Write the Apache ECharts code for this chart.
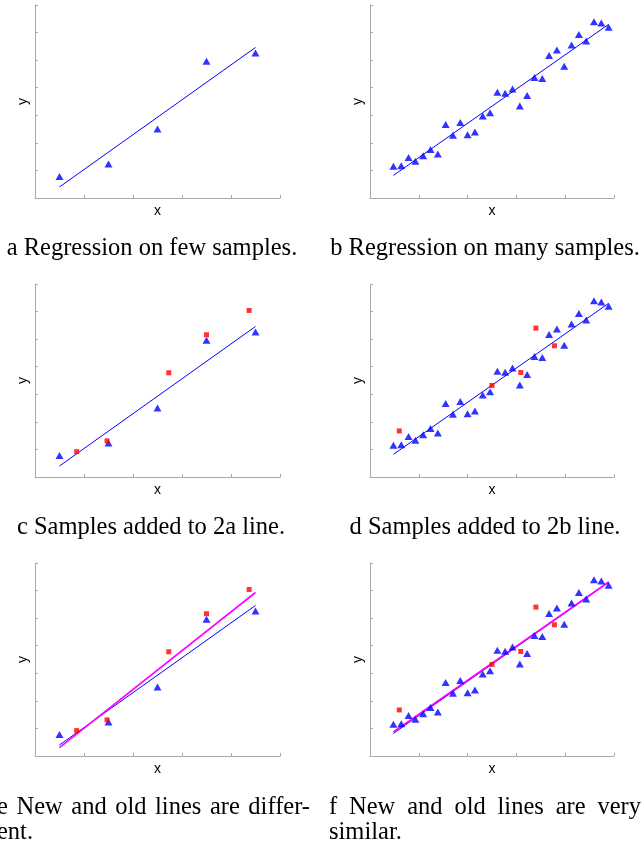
<!DOCTYPE html>
<html lang="en">
<head>
<meta charset="utf-8" />
<title>Regression panels</title>
<script src="https://cdn.jsdelivr.net/npm/echarts@6/dist/echarts.min.js"></script>
<style>
  html, body { margin: 0; padding: 0; background: #fff; }
  #main { width: 642px; height: 848px; }
</style>
</head>
<body>
<div id="main"></div>
<script>
// few samples (panels a, c, e)
let fewX = [0.5, 1.5, 2.5, 3.5, 4.5];
let fewY = [0.78, 1.23, 2.50, 4.96, 5.26];
let fewAddX = [0.85, 1.47, 2.73, 3.50, 4.37];
let fewAddY = [0.92, 1.31, 3.78, 5.16, 6.04];
let fewLineX = [0.5, 4.5];
let fewLineY = [0.40, 5.46];
let fewNewLineY = [0.30, 5.93];

// many samples (panels b, d, f)
let manyX = [0.48, 0.64, 0.79, 0.93, 1.09, 1.24, 1.39, 1.55, 1.70, 1.85,
             2.00, 2.15, 2.31, 2.46, 2.61, 2.77, 2.92, 3.07, 3.22, 3.37,
             3.53, 3.67, 3.83, 3.98, 4.13, 4.28, 4.43, 4.59, 4.74, 4.89];
let manyY = [1.15, 1.17, 1.47, 1.33, 1.53, 1.76, 1.60, 2.67, 2.28, 2.74,
             2.29, 2.39, 2.97, 3.09, 3.84, 3.80, 3.95, 3.34, 3.72, 4.37,
             4.33, 5.17, 5.37, 4.78, 5.55, 5.93, 5.69, 6.39, 6.35, 6.19];
let manyAddX = [0.60, 2.50, 3.09, 3.40, 3.78];
let manyAddY = [1.67, 3.32, 3.79, 5.40, 4.76];
let manyLineX = [0.48, 4.89];
let manyLineY = [0.82, 6.30];
let manyNewLineY = [0.87, 6.31];

// axis ticks
let xTicks = [0, 1, 2, 3, 4, 5];
let yTicks = [0, 1, 2, 3, 4, 5, 6, 7];

let captions = [
  ['a Regression on few samples.'],
  ['b Regression on many samples.'],
  ['c Samples added to 2a line.'],
  ['d Samples added to 2b line.'],
  ['e New and old lines are differ-', 'ent.'],
  ['f New and old lines are very', 'similar.']
];

function pairs(xs, ys) {
  return xs.map((x, i) => [x, ys[i]]);
}

// layout of the six panels
let panels = [
  { left: 35, top: 5,   width: 245, set: 'few',  added: false, newLine: false },
  { left: 370, top: 5,  width: 244, set: 'many', added: false, newLine: false },
  { left: 35, top: 284, width: 245, set: 'few',  added: true,  newLine: false },
  { left: 370, top: 284, width: 244, set: 'many', added: true, newLine: false },
  { left: 35, top: 563, width: 245, set: 'few',  added: true,  newLine: true },
  { left: 370, top: 563, width: 244, set: 'many', added: true, newLine: true }
];
let plotH = 193;

let axisColor = '#a9a9a9';
let grids = [], xAxes = [], yAxes = [], series = [];

panels.forEach((p, i) => {
  grids.push({ left: p.left, top: p.top, width: p.width, height: plotH });
  xAxes.push({
    type: 'value', gridIndex: i,
    min: xTicks[0], max: xTicks[xTicks.length - 1], interval: 1,
    name: 'x', nameLocation: 'middle', nameGap: 6,
    nameTextStyle: { fontFamily: 'Liberation Sans', fontSize: 14, color: '#000' },
    axisLine: { lineStyle: { color: axisColor, width: 1 } },
    axisTick: { inside: true, length: 3, lineStyle: { color: axisColor } },
    axisLabel: { show: false },
    splitLine: { show: false }
  });
  yAxes.push({
    type: 'value', gridIndex: i,
    min: yTicks[0], max: yTicks[yTicks.length - 1], interval: 1,
    name: 'y', nameLocation: 'middle', nameGap: 5,
    nameTextStyle: { fontFamily: 'Liberation Sans', fontSize: 14, color: '#000' },
    axisLine: { show: true, lineStyle: { color: axisColor, width: 1 } },
    axisTick: { show: true, inside: true, length: 3, lineStyle: { color: axisColor } },
    axisLabel: { show: false },
    splitLine: { show: false }
  });

  let few = p.set === 'few';
  let lx = few ? fewLineX : manyLineX;
  series.push({
    type: 'line', xAxisIndex: i, yAxisIndex: i,
    data: pairs(lx, few ? fewLineY : manyLineY),
    symbol: 'none', lineStyle: { color: '#0000ff', width: 1 }, z: 2
  });
  if (p.newLine) {
    series.push({
      type: 'line', xAxisIndex: i, yAxisIndex: i,
      data: pairs(lx, few ? fewNewLineY : manyNewLineY),
      symbol: 'none', lineStyle: { color: '#ff00ff', width: 1.6 }, z: 3
    });
  }
  series.push({
    type: 'scatter', xAxisIndex: i, yAxisIndex: i,
    data: few ? pairs(fewX, fewY) : pairs(manyX, manyY),
    symbol: 'triangle', symbolSize: [8, 7],
    itemStyle: { color: '#0000ff' }, z: 4
  });
  if (p.added) {
    series.push({
      type: 'scatter', xAxisIndex: i, yAxisIndex: i,
      data: few ? pairs(fewAddX, fewAddY) : pairs(manyAddX, manyAddY),
      symbol: 'rect', symbolSize: 5,
      itemStyle: { color: '#ff0000' }, z: 5
    });
  }
});

// captions, serif; two-line ones are justified on the first line
let capFont = 'Liberation Serif';
let capSize = 24.5;
let capSlots = [
  { cx: 152, left: -3, right: 310, y: 249 },
  { cx: 485, left: 329, right: 641, y: 249 },
  { cx: 151, left: -3, right: 310, y: 528 },
  { cx: 485, left: 329, right: 641, y: 528 },
  { cx: 152, left: -3, right: 310, y: 808 },
  { cx: 485, left: 329, right: 641, y: 808 }
];
let lineGap = 25;

let measureCtx = document.createElement('canvas').getContext('2d');
measureCtx.font = capSize + 'px "' + capFont + '"';

function capText(str, x, y, align) {
  return {
    type: 'text', x: x, y: y,
    style: {
      text: str, fill: '#000', font: capSize + 'px "' + capFont + '"',
      textAlign: align, textVerticalAlign: 'middle'
    }
  };
}

let graphics = [];
captions.forEach((lines, i) => {
  let s = capSlots[i];
  if (lines.length === 1) {
    graphics.push(capText(lines[0], s.cx, s.y, 'center'));
    return;
  }
  lines.forEach((ln, j) => {
    let y = s.y + j * lineGap;
    if (j === lines.length - 1) {
      graphics.push(capText(ln, s.left, y, 'left'));
      return;
    }
    let words = ln.split(' ');
    let widths = words.map(w => measureCtx.measureText(w).width);
    let total = widths.reduce((a, b) => a + b, 0);
    let gap = (s.right - s.left - total) / (words.length - 1);
    let x = s.left;
    words.forEach((w, k) => {
      graphics.push(capText(w, x, y, 'left'));
      x += widths[k] + gap;
    });
  });
});

let chart = echarts.init(document.getElementById('main'));
chart.setOption({
  animation: false,
  grid: grids,
  xAxis: xAxes,
  yAxis: yAxes,
  series: series,
  graphic: graphics
});
</script>
</body>
</html>
